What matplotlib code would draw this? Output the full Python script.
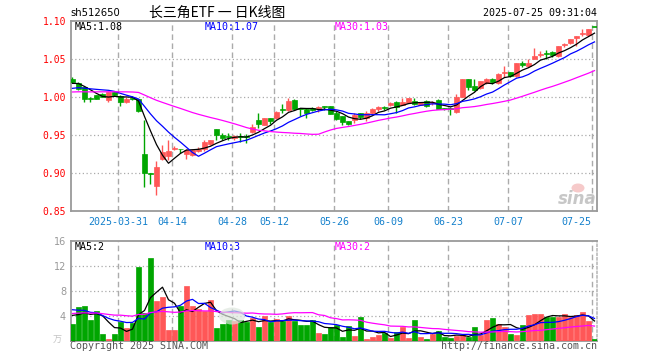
import numpy as np
import pandas as pd
import matplotlib
matplotlib.use("Agg")
import matplotlib.pyplot as plt
from matplotlib.transforms import blended_transform_factory
from matplotlib.patches import Ellipse

# ---------------- data ----------------
tick_labels = ["2025-03-31", "04-14", "04-28", "05-12", "05-26", "06-09", "06-23", "07-07", "07-25"]
tick_index = [8, 17, 27, 34, 44, 53, 63, 73, 87]

opens = [1.024, 1.019, 1.013, 0.999, 1.002, 1.0035, 0.996, 1.007, 1.001, 0.993,
         0.999, 0.997, 0.925, 0.900, 0.883, 0.919, 0.922, 0.931, 0.932, 0.9245,
         0.924, 0.9295, 0.931, 0.938, 0.9575, 0.950, 0.948, 0.9465, 0.948, 0.949,
         0.9544, 0.9697, 0.963, 0.9724, 0.9724, 0.984, 0.983, 0.996, 0.985, 0.9838,
         0.985, 0.986, 0.988, 0.9877, 0.9794, 0.9754, 0.9684, 0.9697, 0.979, 0.972,
         0.9785, 0.9842, 0.986, 0.990, 0.9934, 0.990, 0.9925, 0.9943, 0.990, 0.9947,
         0.9925, 0.996, 0.9845, 0.985, 0.9798, 1.0004, 1.0237, 1.0145, 1.0114, 1.018,
         1.0232, 1.0189, 1.032, 1.0325, 1.0276, 1.0452, 1.0408, 1.0504, 1.0557, 1.058,
         1.0588, 1.054, 1.0685, 1.0706, 1.0772, 1.0825, 1.081, 1.0925]
highs = [1.026, 1.020, 1.014, 1.000, 1.003, 1.005, 1.007, 1.0085, 1.002, 1.000,
         1.001, 0.998, 0.970, 0.900, 0.916, 0.937, 0.944, 0.935, 0.932, 0.931,
         0.931, 0.934, 0.943, 0.944, 0.958, 0.9526, 0.952, 0.9495, 0.952, 0.9515,
         0.9645, 0.979, 0.9725, 0.9725, 0.981, 0.9908, 0.9987, 0.997, 0.986, 0.985,
         0.9865, 0.988, 0.988, 0.988, 0.981, 0.9754, 0.9684, 0.979, 0.979, 0.981,
         0.985, 0.988, 0.988, 0.994, 0.9943, 0.999, 0.9991, 0.999, 0.994, 0.9956,
         0.995, 0.997, 0.986, 0.9865, 1.0035, 1.0237, 1.0237, 1.0237, 1.021, 1.0254,
         1.0245, 1.031, 1.0408, 1.0334, 1.0452, 1.047, 1.0504, 1.0645, 1.060, 1.0618,
         1.060, 1.0675, 1.0715, 1.0768, 1.0798, 1.0895, 1.089, 1.0925]
lows = [1.019, 1.009, 0.993, 0.993, 0.997, 1.000, 0.994, 1.001, 0.988, 0.992,
        0.996, 0.980, 0.882, 0.886, 0.871, 0.917, 0.917, 0.930, 0.926, 0.918,
        0.922, 0.928, 0.929, 0.937, 0.9434, 0.9434, 0.944, 0.9434, 0.941, 0.940,
        0.953, 0.959, 0.963, 0.9645, 0.9715, 0.979, 0.982, 0.983, 0.975, 0.973,
        0.982, 0.980, 0.983, 0.977, 0.970, 0.9627, 0.9636, 0.966, 0.9706, 0.969,
        0.9763, 0.981, 0.983, 0.9877, 0.979, 0.9895, 0.9917, 0.989, 0.989, 0.9873,
        0.9895, 0.984, 0.9825, 0.976, 0.9785, 0.9995, 1.0092, 1.0083, 1.010, 1.0172,
        1.017, 1.0172, 1.0268, 1.0268, 1.0268, 1.040, 1.040, 1.0496, 1.052, 1.0504,
        1.0531, 1.0531, 1.0654, 1.0697, 1.0671, 1.080, 1.080, 1.0922]
closes = [1.020, 1.0105, 0.997, 0.998, 0.998, 1.0005, 1.006, 1.002, 0.994, 0.998,
          0.998, 0.982, 0.900, 0.899, 0.908, 0.928, 0.929, 0.933, 0.931, 0.930,
          0.930, 0.932, 0.941, 0.943, 0.9496, 0.9465, 0.947, 0.9487, 0.947, 0.947,
          0.9605, 0.9649, 0.9724, 0.969, 0.980, 0.983, 0.9943, 0.9846, 0.984, 0.9785,
          0.983, 0.987, 0.987, 0.9776, 0.9715, 0.9675, 0.9645, 0.9763, 0.9737, 0.9785,
          0.9838, 0.9868, 0.9855, 0.9917, 0.9868, 0.9934, 0.9991, 0.991, 0.993, 0.9886,
          0.994, 0.9846, 0.984, 0.984, 1.0004, 1.0237, 1.0136, 1.0092, 1.021, 1.0241,
          1.020, 1.0298, 1.033, 1.0276, 1.0452, 1.0417, 1.0452, 1.054, 1.0565, 1.057,
          1.0548, 1.0671, 1.0695, 1.0759, 1.0798, 1.0832, 1.089, 1.0922]
volumes = [2.72, 5.39, 5.6, 3.36, 4.8, 1.12, 0.32, 1.12, 2.99, 2.13,
           2.93, 11.84, 4.5, 13.28, 6.45, 6.99, 1.76, 1.76, 5.6, 8.85,
           5.6, 5.17, 4.85, 6.56, 2.08, 2.72, 3.4, 3.15, 3.41, 3.04,
           3.68, 2.19, 4.0, 3.04, 3.47, 3.25, 4.0, 3.25, 2.61, 2.61,
           3.36, 1.28, 1.12, 2.2, 2.5, 0.66, 2.4, 0.8, 3.84, 0.25,
           0.64, 0.96, 1.23, 0.5, 1.42, 2.22, 0.48, 3.36, 0.7, 0.3,
           1.07, 1.58, 0.66, 0.54, 0.88, 0.9, 0.66, 2.24, 0.9, 3.4,
           3.74, 2.72, 2.19, 1.12, 0.91, 2.51, 4.16, 4.32, 4.32, 3.79,
           3.79, 3.89, 4.32, 3.79, 4.16, 4.64, 3.15, 0.27]
# history before the first visible day (used only for the moving averages)
prior_close = [1.003, 0.998, 1.001, 0.996, 0.999, 1.004, 1.002, 0.997, 1.000, 1.003,
               0.999, 1.002, 1.006, 1.009, 1.012, 1.010, 1.013, 1.008, 1.011, 1.011,
               1.002, 1.004, 1.006, 1.005, 1.007, 1.012, 1.016, 1.020, 1.022]
prior_volume = [3.5, 4.2, 5.1, 3.8, 4.6, 3.9, 4.4, 3.2, 4.8, 5.0,
                3.6, 4.1, 4.5, 3.7, 4.3, 3.9, 4.2, 4.0, 3.6, 3.6,
                6.2, 5.8, 6.5, 5.4, 5.6, 4.8, 4.2, 4.6, 4.2]

price_legend = ["MA5:1.08", "MA10:1.07", "MA30:1.03"]
vol_legend = ["MA5:2", "MA10:3", "MA30:2"]
price_ticks = [0.85, 0.90, 0.95, 1.00, 1.05, 1.10]
vol_ticks = [4, 8, 12, 16]

# ---------------- styling ----------------
W, H = 660, 360
RED = "#ff5757"
GREEN = "#00a600"
BORDER = "#9a9a9a"
GRID = "#ababab"
MA_COLORS = ["#000000", "#0000ff", "#ff00ff"]
MONO = "DejaVu Sans Mono"

fig = plt.figure(figsize=(W / 100, H / 100), dpi=100)
fig.patch.set_facecolor("white")


def rect(l, t, r, b):
    return [l / W, 1 - b / H, (r - l) / W, (b - t) / H]


ax = fig.add_axes(rect(70.5, 21, 597, 211))
axv = fig.add_axes(rect(70.5, 241, 597, 341))

n = len(closes)
x = np.arange(n)
o = np.array(opens); hi = np.array(highs); lo = np.array(lows); c = np.array(closes)
v = np.array(volumes)
up = c >= o
cols = np.where(up, RED, GREEN)

xlim = (-0.333, 87.417)
for a in (ax, axv):
    a.set_xlim(*xlim)
    a.set_xticks([])
    for k in tick_index:
        a.axvline(k - 0.38, color=GRID, lw=1.0, ls=(0, (4, 2.5)), zorder=1)

ax.set_ylim(0.85, 1.10)
axv.set_ylim(0, 16)

for yv in [0.90, 0.95, 1.00, 1.05]:
    ax.axhline(yv, color=GRID, lw=0.9, ls=(0, (1, 2)), zorder=1)
for yv in [4, 8, 12]:
    axv.axhline(yv, color=GRID, lw=0.9, ls=(0, (1, 2)), zorder=1)

# candles
ax.vlines(x, lo, hi, colors=cols, lw=1.0, zorder=3)
body_bottom = np.minimum(o, c)
body_h = np.maximum(np.abs(c - o), 0.0011)
ax.bar(x, body_h, bottom=body_bottom, width=0.8, color=cols, edgecolor=cols, lw=0.5, zorder=4)

# moving averages
all_close = pd.Series(prior_close + closes)
all_vol = pd.Series(prior_volume + volumes)
for win, col in zip([5, 10, 30], MA_COLORS):
    ma = all_close.rolling(win).mean().to_numpy()[-n:]
    ax.plot(x, ma, color=col, lw=0.9, zorder=5)
    mav = all_vol.rolling(win).mean().to_numpy()[-n:]
    axv.plot(x, mav, color=col, lw=0.9, zorder=5)

# volume bars
axv.bar(x, v, width=0.8, color=cols, edgecolor=cols, lw=0.5, zorder=3)

# ticks / labels
ax.set_yticks(price_ticks)
ax.set_yticklabels([f"{t:.2f}" for t in price_ticks])
ax.tick_params(axis="y", length=0, pad=3.2, labelcolor="#ff0000", labelsize=7)
for lab in ax.get_yticklabels():
    lab.set_fontfamily(MONO)
axv.set_yticks(vol_ticks)
axv.set_yticklabels([str(t) for t in vol_ticks])
axv.tick_params(axis="y", length=0, pad=3.2, labelcolor="#999999", labelsize=7)

for a in (ax, axv):
    for s in a.spines.values():
        s.set_color(BORDER)
        s.set_linewidth(1.3)
axv.spines["right"].set_linestyle((0, (1, 1.5)))
axv.spines["right"].set_color("#c0c0c0")

trans = blended_transform_factory(ax.transData, fig.transFigure)
for lab, k in zip(tick_labels, tick_index):
    ha = "right" if k == tick_index[-1] else "center"
    xpos = k - 0.38 if ha == "center" else k - 0.6
    ax.text(xpos, 1 - 221.7 / H, lab, transform=trans, ha=ha, va="center",
            fontsize=7.2, family=MONO, color="#1480cc")

# legends inside panels
for txt, col, px in zip(price_legend, MA_COLORS, [74.5, 204.5, 334.5]):
    fig.text(px / W, 1 - 27 / H, txt, ha="left", va="center", fontsize=7.2, family=MONO, color=col)
for txt, col, px in zip(vol_legend, MA_COLORS, [74.5, 204.5, 334.5]):
    fig.text(px / W, 1 - 246.5 / H, txt, ha="left", va="center", fontsize=7.2, family=MONO, color=col)

# header
fig.text(70 / W, 1 - 13 / H, "sh512650", ha="left", va="center", fontsize=7.2, family="DejaVu Sans", color="#000000")
fig.text(217 / W, 1 - 13 / H, "长三角ETF 一 日K线图", ha="center", va="center", fontsize=10,
         family=["Noto Sans CJK SC", "DejaVu Sans"], color="#000000")
fig.text(597 / W, 1 - 13 / H, "2025-07-25 09:31:04", ha="right", va="center", fontsize=7.2, family=MONO, color="#000000")

# footer
fig.text(70 / W, 1 - 346 / H, "Copyright 2025 SINA.COM", ha="left", va="center", fontsize=7.2, family=MONO, color="#555555")
fig.text(597 / W, 1 - 346 / H, "http://finance.sina.com.cn", ha="right", va="center", fontsize=7.2, family=MONO, color="#555555")
fig.text(57 / W, 1 - 340 / H, "万", ha="center", va="center", fontsize=6.5,
         family=["Noto Sans CJK SC", "DejaVu Sans"], color="#c4c4c4")

# watermarks
fig.add_artist(Ellipse((578 / W, 1 - 188 / H), 13 / W, 9 / H, transform=fig.transFigure,
                       facecolor="#f3b9b9", edgecolor="none", alpha=0.75, zorder=6))
fig.text(597 / W, 1 - 199 / H, "sina", ha="right", va="center", fontsize=12, style="italic",
         weight="bold", family="DejaVu Sans", color="#bdbdbd", alpha=0.85, zorder=7)
fig.add_artist(Ellipse((232 / W, 1 - 316 / H), 26 / W, 17 / H, transform=fig.transFigure,
                       facecolor="#dde6dd", edgecolor="none", alpha=0.7, zorder=6))

fig.savefig("out.png", dpi=100, facecolor="white")
